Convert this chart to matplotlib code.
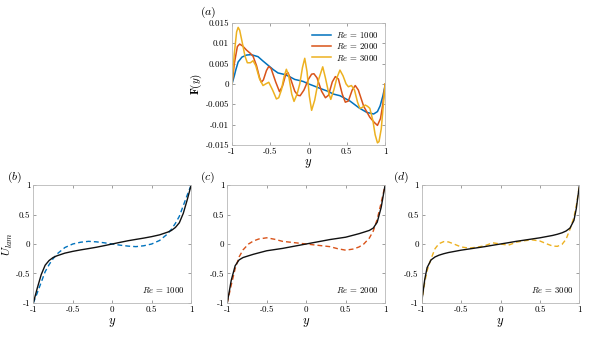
import matplotlib
matplotlib.use("Agg")
import matplotlib.pyplot as plt

plt.rcParams['font.family'] = 'serif'
plt.rcParams['font.serif'] = ['cmr10', 'DejaVu Serif']
plt.rcParams['mathtext.fontset'] = 'cm'
plt.rcParams['axes.unicode_minus'] = False
plt.rcParams['axes.formatter.use_mathtext'] = True

blue = '#0072BD'
red = '#D95319'
yellow = '#EDB120'

# (a) forcing F(y) for three Reynolds numbers
y1 = [-1, -0.97, -0.95, -0.92, -0.87, -0.81, -0.75, -0.66, -0.6, -0.53, -0.46, -0.4, -0.31,
      -0.25, -0.18, -0.11, -0.07, 0, 0.07, 0.15, 0.25, 0.325, 0.41, 0.54, 0.66, 0.76, 0.85,
      0.9, 0.935, 0.97, 1]
F1000 = [0, 0.002, 0.0035, 0.0054, 0.0066, 0.0071, 0.0072, 0.0067, 0.0057, 0.0046, 0.0035,
         0.0027, 0.0023, 0.0018, 0.0011, 0.0008, 0.0006, 0, -0.0005, -0.0011, -0.0018, -0.0025,
         -0.0029, -0.0042, -0.0059, -0.007, -0.0074, -0.0068, -0.0054, -0.003, -0.0004]

y2 = [-1, -0.97, -0.93, -0.9, -0.86, -0.81, -0.76, -0.725, -0.68, -0.64, -0.617, -0.59, -0.55,
      -0.52, -0.49, -0.43, -0.38, -0.34, -0.3, -0.27, -0.23, -0.18, -0.14, -0.11, -0.06, 0.0,
      0.04, 0.07, 0.11, 0.17, 0.22, 0.26, 0.31, 0.35, 0.39, 0.44, 0.48, 0.52, 0.57, 0.61, 0.65,
      0.72, 0.8, 0.86, 0.9, 0.94, 0.97, 1]
F2000 = [0, 0.005, 0.0092, 0.0098, 0.0093, 0.0083, 0.0075, 0.0068, 0.0045, 0.0015, 0.0004,
         0.001, 0.0033, 0.0043, 0.0038, 0.0005, -0.0019, -0.0005, 0.0022, 0.0028, 0.001, -0.0018,
         -0.0028, -0.0029, -0.0015, 0.0012, 0.0024, 0.0025, 0.0015, -0.0018, -0.0034, -0.0028,
         0.0005, 0.0018, 0.0012, -0.0025, -0.0045, -0.0042, -0.0015, -0.0004, -0.0015, -0.0055,
         -0.0082, -0.0095, -0.0102, -0.0085, -0.005, 0]

y3 = [-1, -0.97, -0.94, -0.92, -0.9, -0.87, -0.83, -0.8, -0.76, -0.725, -0.69, -0.64, -0.595,
      -0.56, -0.52, -0.47, -0.42, -0.39, -0.355, -0.32, -0.29, -0.26, -0.22, -0.19, -0.15,
      -0.115, -0.08, -0.05, -0.02, 0.01, 0.04, 0.08, 0.13, 0.185, 0.22, 0.26, 0.29, 0.33, 0.37,
      0.41, 0.45, 0.49, 0.52, 0.56, 0.6, 0.64, 0.67, 0.7, 0.74, 0.77, 0.8, 0.84, 0.87, 0.9,
      0.92, 0.95, 0.98, 1]
F3000 = [0, 0.0075, 0.0128, 0.0139, 0.0132, 0.0105, 0.0068, 0.0052, 0.0052, 0.0057, 0.0045,
         0.0012, -0.0004, 0.0, 0.0004, -0.0015, -0.0037, -0.0034, -0.0015, 0.0018, 0.0036, 0.002,
         -0.0025, -0.0043, -0.0025, 0.0, 0.004, 0.0063, 0.003, -0.003, -0.0065, -0.004, 0.001,
         0.0042, 0.0015, -0.002, -0.0038, -0.0015, 0.0015, 0.0034, 0.002, 0.0, -0.0007, -0.0004,
         -0.0015, -0.0045, -0.006, -0.0058, -0.0052, -0.0055, -0.006, -0.009, -0.0125, -0.0145,
         -0.0142, -0.011, -0.0045, 0]

# (b)-(d) laminar profile (solid) and dashed reconstruction
yb = [-1, -0.95, -0.9, -0.85, -0.8, -0.75, -0.7, -0.6, -0.5, -0.4, -0.3, -0.2, -0.1, 0,
      0.1, 0.2, 0.3, 0.4, 0.5, 0.6, 0.7, 0.75, 0.8, 0.85, 0.9, 0.95, 1]
Ulam1000 = [-1, -0.75, -0.52, -0.36, -0.28, -0.23, -0.2, -0.155, -0.125, -0.1, -0.078, -0.055,
            -0.028, 0, 0.028, 0.055, 0.078, 0.1, 0.125, 0.155, 0.2, 0.23, 0.28, 0.36, 0.52, 0.75, 1]
Ud1000 = [-1, -0.83, -0.65, -0.47, -0.35, -0.25, -0.17, -0.06, 0.0, 0.03, 0.045, 0.036, 0.02,
          0, -0.02, -0.036, -0.045, -0.03, 0.0, 0.06, 0.17, 0.25, 0.35, 0.47, 0.65, 0.83, 1]

yc = [-1, -0.95, -0.9, -0.85, -0.8, -0.73, -0.67, -0.6, -0.5, -0.4, -0.3, -0.2, -0.1, 0,
      0.1, 0.2, 0.3, 0.4, 0.5, 0.6, 0.67, 0.73, 0.8, 0.85, 0.9, 0.95, 1]
Ulam2000 = [-1, -0.62, -0.37, -0.27, -0.23, -0.2, -0.175, -0.15, -0.115, -0.095, -0.075, -0.05,
            -0.025, 0, 0.025, 0.05, 0.075, 0.095, 0.115, 0.15, 0.175, 0.2, 0.23, 0.27, 0.37, 0.62, 1]
Ud2000 = [-1, -0.7, -0.42, -0.22, -0.1, 0.0, 0.05, 0.085, 0.105, 0.08, 0.045, 0.03, 0.015, 0,
          -0.015, -0.03, -0.045, -0.08, -0.105, -0.085, -0.05, 0.0, 0.1, 0.22, 0.42, 0.7, 1]

yd = [-1, -0.96, -0.93, -0.88, -0.83, -0.78, -0.72, -0.66, -0.6, -0.5, -0.4, -0.3, -0.2, -0.1,
      0, 0.1, 0.2, 0.3, 0.4, 0.5, 0.6, 0.66, 0.72, 0.78, 0.83, 0.88, 0.93, 0.96, 1]
Ulam3000 = [-1, -0.6, -0.4, -0.27, -0.22, -0.19, -0.165, -0.145, -0.13, -0.105, -0.085, -0.065,
            -0.045, -0.022, 0, 0.022, 0.045, 0.065, 0.085, 0.105, 0.13, 0.145, 0.165, 0.19, 0.22,
            0.27, 0.4, 0.6, 1]
Ud3000 = [-1, -0.65, -0.45, -0.25, -0.08, 0.005, 0.04, 0.035, 0.005, -0.05, -0.07, -0.055, -0.03,
          0.02, 0, -0.02, 0.03, 0.055, 0.07, 0.05, -0.005, -0.035, -0.04, -0.005, 0.08, 0.25,
          0.45, 0.65, 1]

spine_col = '#b8b8b8'
tfs = 6.5


def style(ax):
    for s in ax.spines.values():
        s.set_color(spine_col)
        s.set_linewidth(0.6)
    ax.tick_params(direction='in', top=True, right=True, length=2.5, width=0.5,
                   color='#777777', labelsize=tfs, pad=2)
    ax.set_xlim(-1, 1)
    ax.set_xticks([-1, -0.5, 0, 0.5, 1])
    ax.set_xticklabels(['-1', '-0.5', '0', '0.5', '1'])
    ax.set_xlabel(r'$y$', fontsize=9, labelpad=1)


fig = plt.figure(figsize=(5.98, 3.37), dpi=100)

axa = fig.add_axes([0.388, 0.570, 0.256, 0.362])
axa.plot(y1, F1000, color=blue, lw=1.1, label=r'$Re$ = 1000')
axa.plot(y2, F2000, color=red, lw=1.1, label=r'$Re$ = 2000')
axa.plot(y3, F3000, color=yellow, lw=1.1, label=r'$Re$ = 3000')
style(axa)
axa.set_ylim(-0.015, 0.015)
axa.set_yticks([-0.015, -0.01, -0.005, 0, 0.005, 0.01, 0.015])
axa.set_yticklabels(['-0.015', '-0.01', '-0.005', '0', '0.005', '0.01', '0.015'])
axa.set_ylabel(r'$\mathbf{F}(y)$', fontsize=8, labelpad=1)
axa.legend(loc='upper right', frameon=False, fontsize=6.3, handlelength=2.2,
           handletextpad=0.5, labelspacing=0.15, borderaxespad=0.4)
fig.text(0.335, 0.955, r'$(a)$', fontsize=8.5)

panels = [
    (0.0557, Ulam1000, Ud1000, yb, blue, '1000', '(b)', 0.012),
    (0.380, Ulam2000, Ud2000, yc, red, '2000', '(c)', 0.334),
    (0.705, Ulam3000, Ud3000, yd, yellow, '3000', '(d)', 0.658),
]
for left, ul, ud, yy, col, re, tag, tx in panels:
    ax = fig.add_axes([left, 0.101, 0.264, 0.350])
    ax.plot(yy, ud, color=col, lw=1.0, ls=(0, (3.5, 2.2)))
    ax.plot(yy, ul, color='#111111', lw=1.0)
    style(ax)
    ax.set_ylim(-1, 1)
    ax.set_yticks([-1, -0.5, 0, 0.5, 1])
    ax.set_yticklabels(['-1', '-0.5', '0', '0.5', '1'])
    ax.text(0.96, 0.07, r'$Re$ = ' + re, transform=ax.transAxes, ha='right',
            va='bottom', fontsize=6.3)
    fig.text(tx, 0.465, r'$%s$' % tag, fontsize=8.5)

axes_b = fig.axes[1]
axes_b.set_ylabel(r'$U_{lam}$', fontsize=8.5, labelpad=1)

fig.savefig('out.png', dpi=100)
